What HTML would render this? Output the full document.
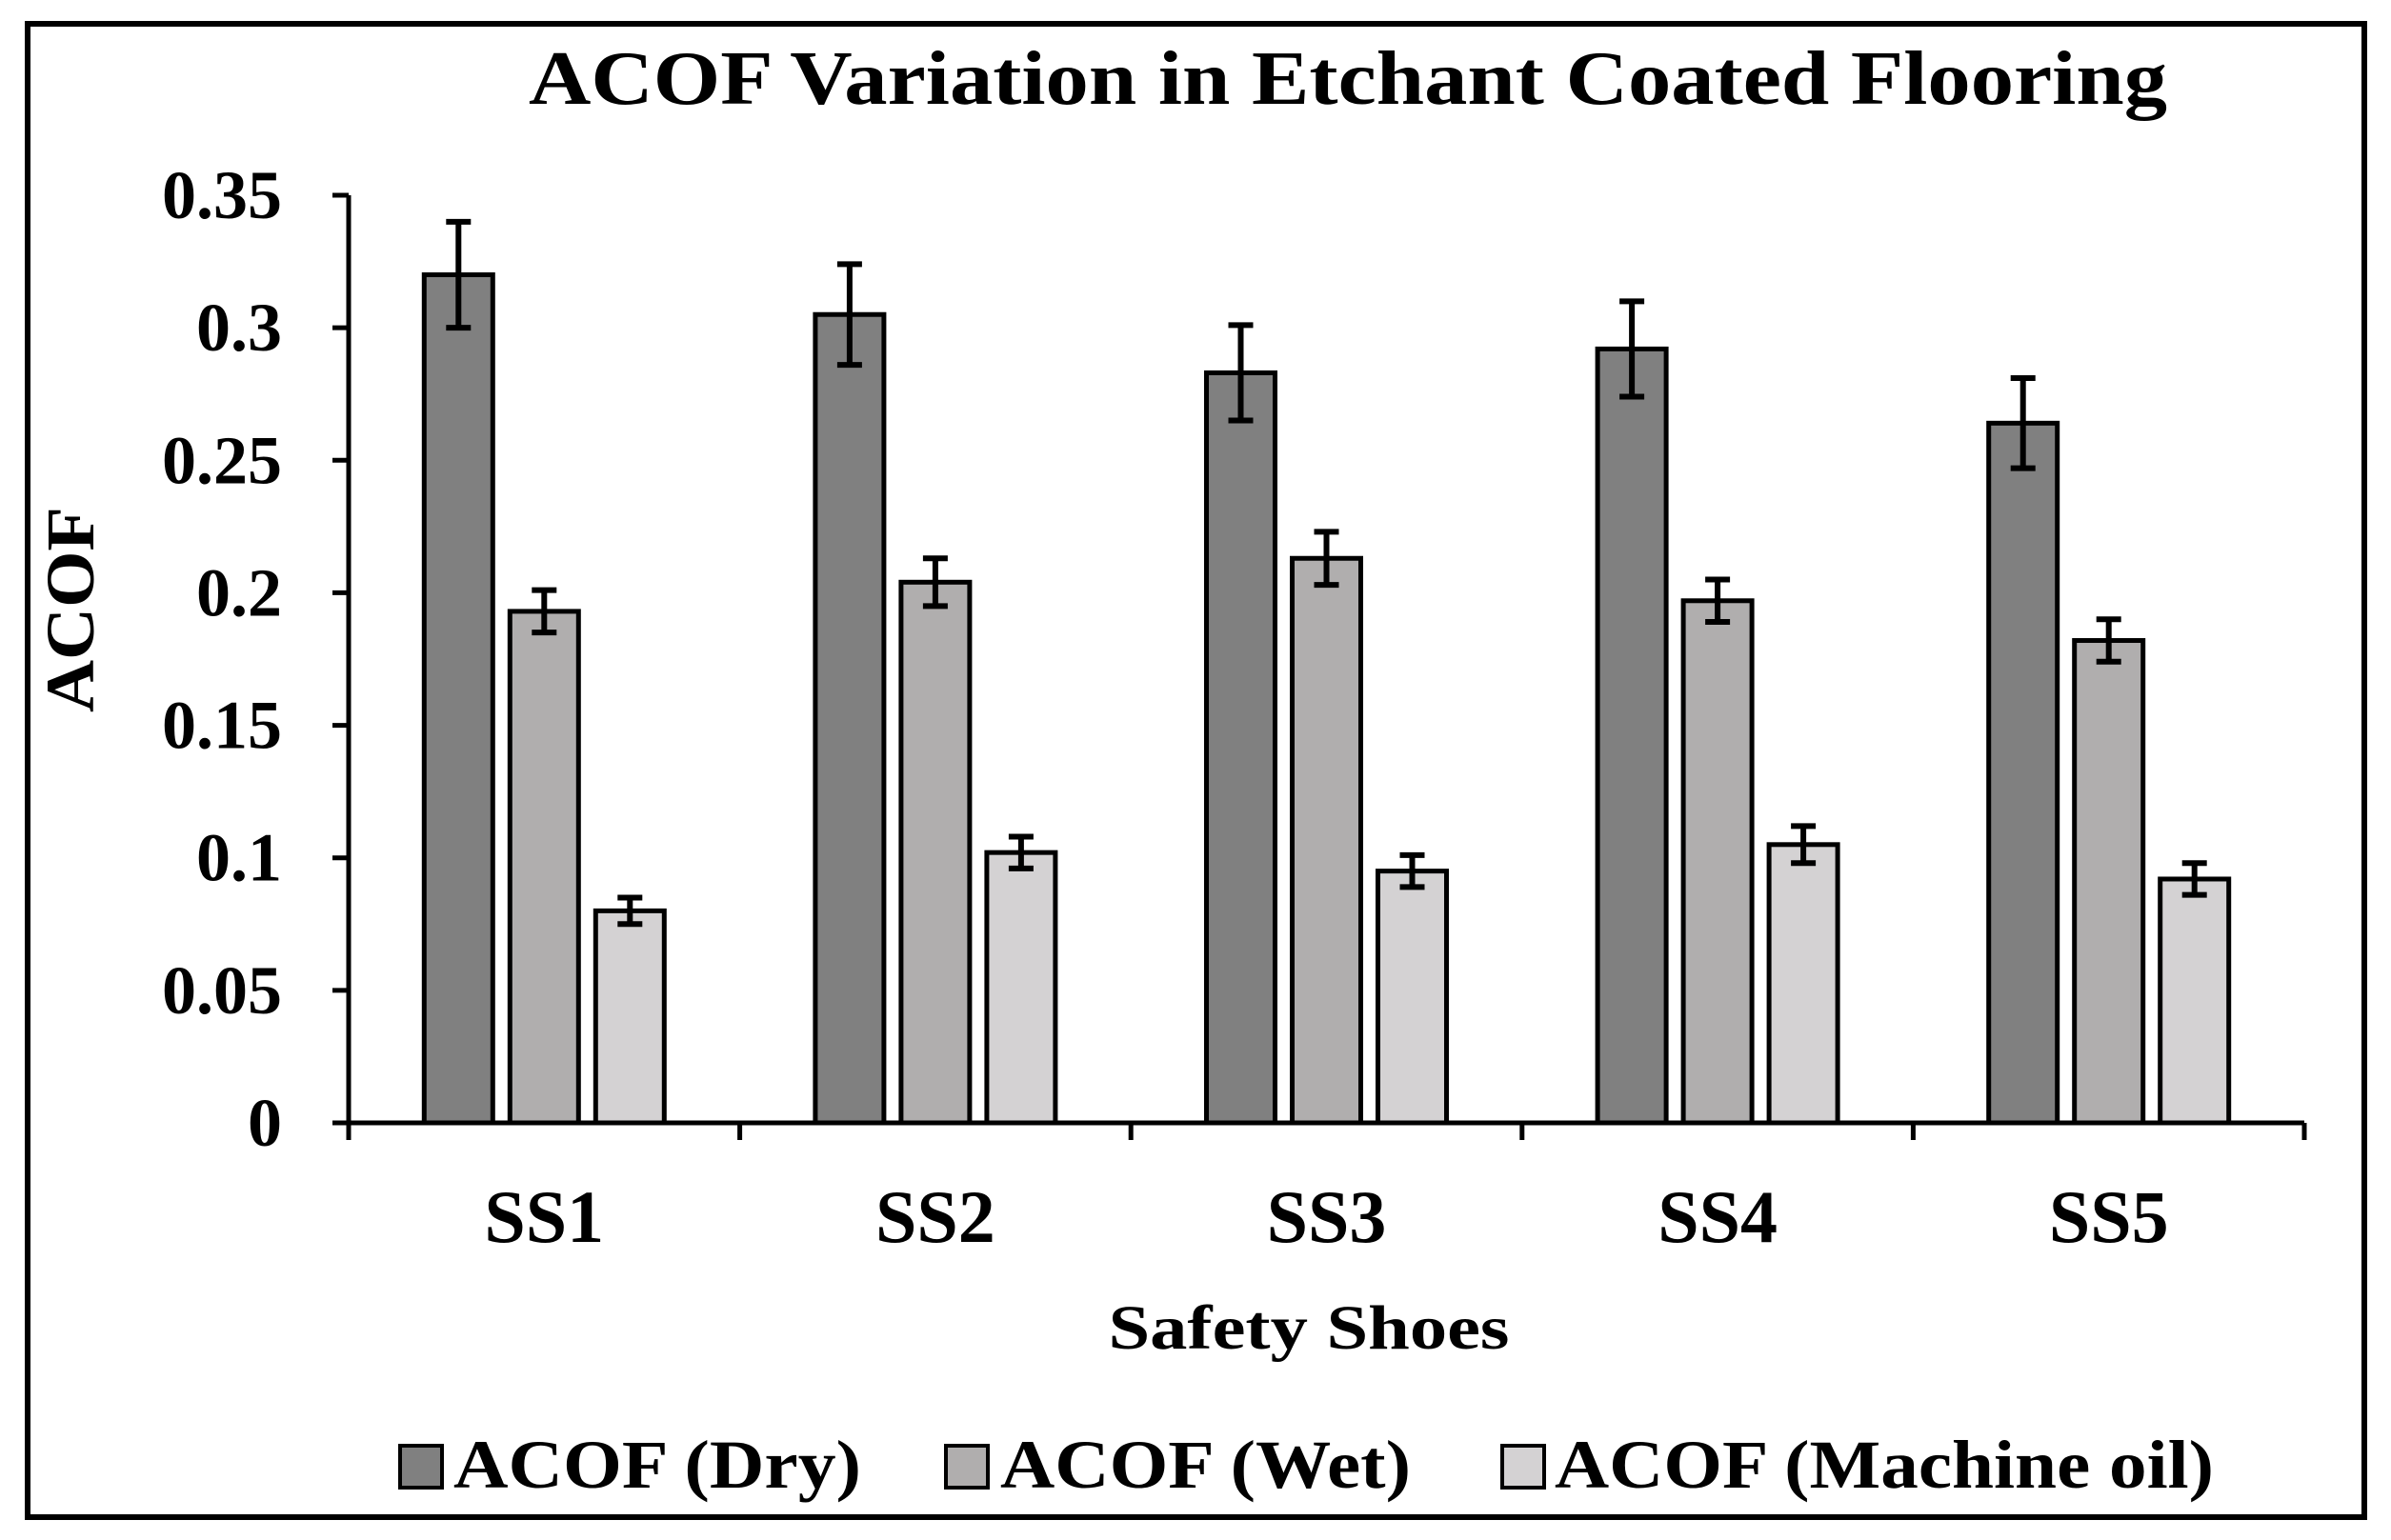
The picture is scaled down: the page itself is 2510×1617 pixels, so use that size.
<!DOCTYPE html>
<html><head><meta charset="utf-8"><style>
html,body{margin:0;padding:0;background:#fff;}
svg{display:block;}
text{font-family:"Liberation Serif",serif;font-weight:bold;fill:#000;}
</style></head><body>
<svg id="chart" width="2510" height="1617" viewBox="0 0 2510 1617" xmlns="http://www.w3.org/2000/svg">
<rect x="29" y="25" width="2453" height="1568" fill="#fff" stroke="#000" stroke-width="6"/>
<text x="1415" y="109" font-size="80" text-anchor="middle" textLength="1720" lengthAdjust="spacingAndGlyphs">ACOF Variation in Etchant Coated Flooring</text>
<text transform="translate(98,640) rotate(-90)" font-size="72" text-anchor="middle" textLength="216" lengthAdjust="spacingAndGlyphs">ACOF</text>
<text x="1374" y="1416" font-size="66" text-anchor="middle" textLength="421" lengthAdjust="spacingAndGlyphs">Safety Shoes</text>
<g id="plot"></g>
<g>
<g><rect x="420" y="1518" width="44" height="44" fill="#808080" stroke="#000" stroke-width="4"/><text x="476" y="1562" font-size="72" textLength="428" lengthAdjust="spacingAndGlyphs">ACOF (Dry)</text></g>
<g><rect x="993" y="1518" width="44" height="44" fill="#b0aeae" stroke="#000" stroke-width="4"/><text x="1050" y="1562" font-size="72" textLength="431" lengthAdjust="spacingAndGlyphs">ACOF (Wet)</text></g>
<g><rect x="1577" y="1518" width="44" height="44" fill="#d4d2d3" stroke="#000" stroke-width="4"/><text x="1632" y="1562" font-size="72" textLength="692" lengthAdjust="spacingAndGlyphs">ACOF (Machine oil)</text></g>
</g>
</svg>
<script>
const categories = ["SS1","SS2","SS3","SS4","SS5"];
const dryValues = [0.320, 0.305, 0.283, 0.292, 0.264];
const dryErrors = [0.020, 0.019, 0.018, 0.018, 0.017];
const wetValues = [0.193, 0.204, 0.213, 0.197, 0.182];
const wetErrors = [0.008, 0.009, 0.010, 0.008, 0.008];
const oilValues = [0.080, 0.102, 0.095, 0.105, 0.092];
const oilErrors = [0.005, 0.006, 0.006, 0.007, 0.006];
const yTicks = [0, 0.05, 0.1, 0.15, 0.2, 0.25, 0.3, 0.35];
const yTickLabels = ["0","0.05","0.1","0.15","0.2","0.25","0.3","0.35"];
const seriesNames = ["dry","wet","machine-oil"];
const seriesColors = ["#808080","#b0aeae","#d4d2d3"];

const NS = "http://www.w3.org/2000/svg";
const plot = document.getElementById("plot");
const X0 = 366, X1 = 2419, Y0 = 1179, YTOP = 205, YMAX = 0.35;
const groupW = (X1 - X0) / categories.length;
const barW = 72, barStep = 90;
function yScale(v){ return Y0 - (v / YMAX) * (Y0 - YTOP); }
function xCenter(i){ return X0 + groupW * (i + 0.5); }
function mk(tag, attrs){ const e = document.createElementNS(NS, tag); for (const k in attrs) e.setAttribute(k, attrs[k]); plot.appendChild(e); return e; }

const series = [[dryValues, dryErrors],[wetValues, wetErrors],[oilValues, oilErrors]];
series.forEach((s, si) => {
  s[0].forEach((v, i) => {
    const cx = xCenter(i) + (si - 1) * barStep;
    const r = mk("rect", {x: cx - barW/2, y: yScale(v), width: barW, height: Y0 - yScale(v), fill: seriesColors[si], stroke: "#000", "stroke-width": 5});
    
    
    const e = s[1][i];
    const eb = mk("path", {d: `M${cx} ${yScale(v+e)}V${yScale(v-e)}M${cx-13} ${yScale(v+e)}H${cx+13}M${cx-13} ${yScale(v-e)}H${cx+13}`, stroke: "#000", "stroke-width": 6, fill: "none"});
    
    
  });
});

const yAxis = mk("line", {x1: X0, y1: YTOP, x2: X0, y2: Y0, stroke: "#000", "stroke-width": 5});


yTicks.forEach((t, i) => {
  const tk = mk("line", {x1: X0 - 17, y1: yScale(t), x2: X0, y2: yScale(t), stroke: "#000", "stroke-width": 5});
  
  
  const lb = mk("text", {x: 296, y: yScale(t) + 24, "font-size": 72, "text-anchor": "end"});
  lb.textContent = yTickLabels[i];
  
  
});
const xAxis = mk("line", {x1: X0 - 17, y1: Y0, x2: X1, y2: Y0, stroke: "#000", "stroke-width": 5});


for (let i = 0; i <= categories.length; i++) {
  const x = X0 + groupW * i;
  const tk = mk("line", {x1: x, y1: Y0, x2: x, y2: Y0 + 18, stroke: "#000", "stroke-width": 5});
  
  
}
categories.forEach((c, i) => {
  const lb = mk("text", {x: xCenter(i), y: 1304, "font-size": 78, "text-anchor": "middle"});
  lb.textContent = c;
  
  
});
</script>
</body></html>
